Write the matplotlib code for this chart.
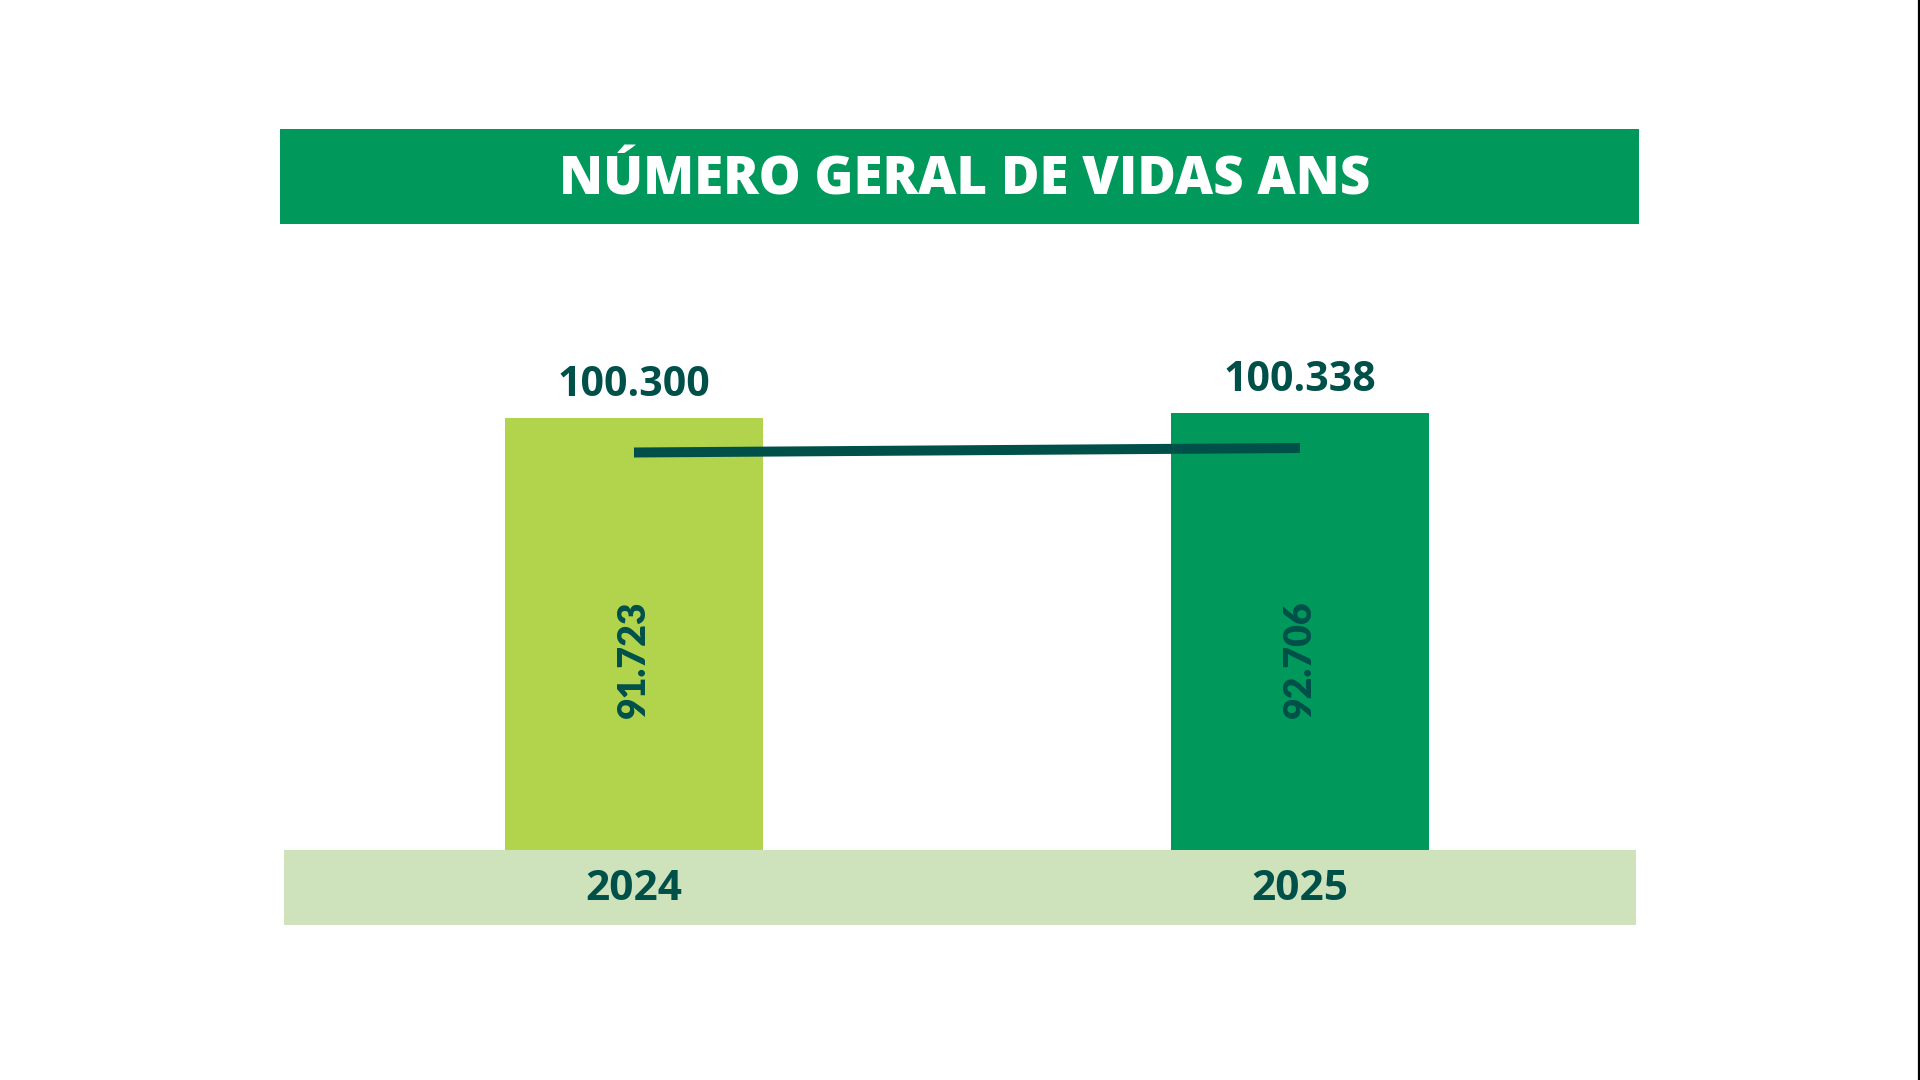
import matplotlib
matplotlib.use("Agg")
import matplotlib.pyplot as plt
from matplotlib.lines import Line2D

# dados
anos = ["2024", "2025"]
total_vidas = [100300, 100338]
vidas_ans = [91723, 92706]

titulo = "NÚMERO GERAL DE VIDAS ANS"

# cores
verde = "#00995B"
verde_claro = "#B2D44C"
faixa = "#CEE2BC"
escuro = "#00504A"
cores_barras = [verde_claro, verde]

W, H = 1920, 1080


def fmt(v):
    return f"{v:,}".replace(",", ".")


def px_axes(fig, x0, y0, x1, y1):
    # pixel box (top-left origin) -> figure axes
    return fig.add_axes([x0 / W, 1 - y1 / H, (x1 - x0) / W, (y1 - y0) / H])


fig = plt.figure(figsize=(19.2, 10.8), dpi=100, facecolor="white")

# faixa do titulo
ax_t = px_axes(fig, 280, 129, 1639, 224)
ax_t.set_facecolor(verde)
ax_t.set_xticks([])
ax_t.set_yticks([])
for s in ax_t.spines.values():
    s.set_visible(False)
ax_t.text(0.5035, 0.45, titulo, ha="center", va="center", color="white",
          fontsize=38, fontweight="heavy", family="Open Sans",
          transform=ax_t.transAxes)

# barras
xs = list(range(len(anos)))
xlim = (-0.5255, 1.5045)

ax = px_axes(fig, 284, 300, 1636, 850)
ax.bar(xs, total_vidas, width=0.387, color=cores_barras, zorder=1)
ax.set_xlim(*xlim)
ax.set_ylim(97020, 101196)
ax.axis("off")

for x, v in zip(xs, total_vidas):
    ax.annotate(fmt(v), (x, v), xytext=(0, 16), textcoords="offset points",
                ha="center", va="baseline", color=escuro, fontsize=29.5,
                fontweight="bold", family="Open Sans")

for x, v in zip(xs, vidas_ans):
    ax.text(x, 0.24, fmt(v), rotation=90, rotation_mode="anchor",
            ha="left", va="center", color=escuro, fontsize=27,
            fontweight="heavy", family="Lato",
            transform=ax.get_xaxis_transform(), zorder=3)

# linha vidas ANS
ax2 = ax.twinx()
ax2.plot(xs, vidas_ans, color=escuro, linewidth=7.2, solid_capstyle="butt",
         zorder=2)
ax2.set_xlim(*xlim)
ax2.set_ylim(4872, 125042)
ax2.axis("off")

# faixa dos anos
ax_b = px_axes(fig, 284, 850, 1636, 925)
ax_b.set_facecolor(faixa)
ax_b.set_xlim(*xlim)
ax_b.set_ylim(0, 1)
ax_b.set_xticks([])
ax_b.set_yticks([])
for s in ax_b.spines.values():
    s.set_visible(False)
for x, a in zip(xs, anos):
    ax_b.text(x, 0.47, a, ha="center", va="center", color=escuro,
              fontsize=30.5, fontweight="bold", family="Open Sans")

# borda preta na direita
fig.add_artist(Line2D([1919 / W, 1919 / W], [0, 1], color="black",
                      linewidth=1.6, transform=fig.transFigure))

fig.savefig("out.png", dpi=100, facecolor="white")
